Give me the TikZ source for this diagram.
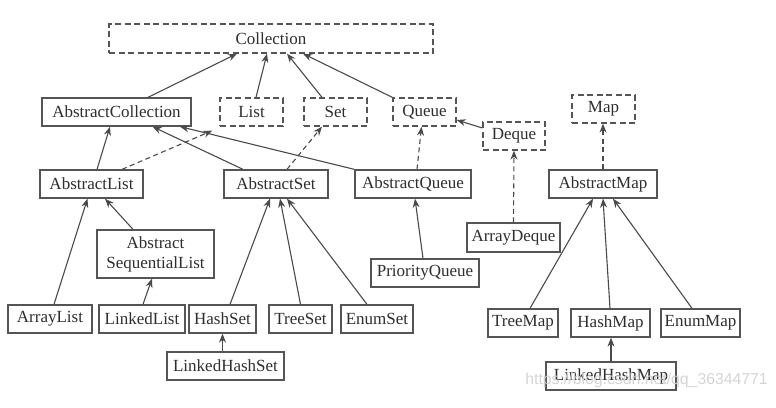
\documentclass[tikz,border=0pt]{standalone}
\usepackage{fontspec}
\setmainfont{Liberation Serif}
\newfontfamily\wmfont{Liberation Sans}
\usetikzlibrary{arrows.meta}
\definecolor{boxc}{HTML}{555555}
\definecolor{linec}{HTML}{4A4A4A}
\definecolor{txtc}{HTML}{2E2E2E}
\definecolor{wmc}{HTML}{D4D4D4}
\tikzset{
  box/.style={draw=boxc, line width=1.3pt, minimum height=28pt, inner sep=0pt,
    text=txtc, font=\fontsize{17}{20}\selectfont, align=center, fill=white},
  ibox/.style={box, dash pattern=on 6pt off 3.5pt},
  inh/.style={draw=linec, line width=1.1pt, -{Stealth[length=9pt,width=7pt]}},
  impl/.style={inh, dash pattern=on 5pt off 3.5pt},
}
\begin{document}
\begin{tikzpicture}[x=1pt,y=-1pt]
\useasboundingbox (0,0) rectangle (776,407);
% interfaces
\node[ibox, minimum width=324pt, minimum height=29pt] (co) at (271,38.5) {Collection};
\node[ibox, minimum width=63pt] (li) at (251.5,112) {List};
\node[ibox, minimum width=63pt] (se) at (335.5,112) {Set};
\node[ibox, minimum width=63pt] (qu) at (424.5,112) {Queue};
\node[ibox, minimum width=62pt] (dq) at (514,136) {Deque};
\node[ibox, minimum width=63pt] (ma) at (603.5,109) {Map};
% abstract classes
\node[box, minimum width=149pt] (ac) at (116.5,112) {AbstractCollection};
\node[box, minimum width=103pt] (al) at (91.5,184) {AbstractList};
\node[box, minimum width=104pt] (as) at (276,184) {AbstractSet};
\node[box, minimum width=116pt] (aq) at (413,184) {AbstractQueue};
\node[box, minimum width=108pt] (am) at (603,184) {AbstractMap};
\node[box, minimum width=117pt, minimum height=48pt] (asl) at (155.5,254) {Abstract\\SequentialList};
% concrete classes
\node[box, minimum width=93pt, minimum height=29pt] (ad) at (513.5,237.5) {ArrayDeque};
\node[box, minimum width=108pt] (pq) at (425,273) {PriorityQueue};
\node[box, minimum width=84pt] (arl) at (50,319) {ArrayList};
\node[box, minimum width=86pt] (ll) at (142,319) {LinkedList};
\node[box, minimum width=67pt] (hs) at (222.5,319) {HashSet};
\node[box, minimum width=63pt] (ts) at (300.5,319) {TreeSet};
\node[box, minimum width=72pt] (es) at (377,319) {EnumSet};
\node[box, minimum width=117pt] (lhs) at (225.5,366) {LinkedHashSet};
\node[box, minimum width=70pt] (tm) at (523,323) {TreeMap};
\node[box, minimum width=79pt] (hm) at (610.5,323) {HashMap};
\node[box, minimum width=79pt] (em) at (700.5,323) {EnumMap};
\node[box, minimum width=130pt] (lhm) at (611,376) {LinkedHashMap};
% connectors
\draw[inh] ([xshift=31.5pt]ac.north) -- ([xshift=-34pt]co.south);
\draw[inh] ([xshift=4.5pt]li.north) -- ([xshift=-4pt]co.south);
\draw[inh] ([xshift=-13.5pt]se.north) -- ([xshift=16pt]co.south);
\draw[inh] (qu.north west) -- ([xshift=32pt]co.south);
\draw[inh] ([yshift=8pt]dq.west) -- ([yshift=-8pt]qu.east);
\draw[inh] ([xshift=5.5pt]al.north) -- ([xshift=-6.5pt]ac.south);
\draw[impl] ([xshift=30.5pt]al.north) -- ([xshift=-7pt,yshift=-4pt]li.south west);
\draw[inh] ([xshift=-33pt]as.north) -- ([xshift=36pt]ac.south);
\draw[impl] ([xshift=11pt]as.north) -- ([xshift=-13.5pt]se.south);
\draw[inh] (aq.north west) -- ([xshift=63.5pt]ac.south);
\draw[impl] ([xshift=4pt]aq.north) -- ([xshift=-3pt]qu.south);
\draw[impl] (ad.north) -- (dq.south);
\draw[impl] (am.north) -- ([xshift=-0.5pt]ma.south);
\draw[inh] ([xshift=-2pt]pq.north) -- ([xshift=2pt]aq.south);
\draw[inh] ([xshift=-22.5pt]asl.north) -- ([xshift=13.5pt]al.south);
\draw[inh] ([xshift=4pt]arl.north) -- ([xshift=-4pt]al.south);
\draw[inh] ([xshift=1pt]ll.north) -- ([xshift=-3.5pt]asl.south);
\draw[inh] ([xshift=7.5pt]hs.north) -- ([xshift=-6pt]as.south);
\draw[inh] (ts.north) -- ([xshift=4pt]as.south);
\draw[inh] ([xshift=-10pt]es.north) -- ([xshift=11pt]as.south);
\draw[inh] (lhs.north -| hs.north) -- (hs.south);
\draw[inh] ([xshift=7pt]tm.north) -- ([xshift=-10pt]am.south);
\draw[inh] ([xshift=-0.5pt]hm.north) -- (am.south);
\draw[inh] ([xshift=-8.5pt]em.north) -- ([xshift=10pt]am.south);
\draw[inh] (lhm.north) -- (lhm.north |- hm.south);
% watermark
\node[text=wmc, font=\wmfont\fontsize{15.8}{18}\selectfont, anchor=east, inner sep=0pt] (wm) at (768,380) {https://blog.csdn.net/qq\_36344771};
\end{tikzpicture}
\end{document}
